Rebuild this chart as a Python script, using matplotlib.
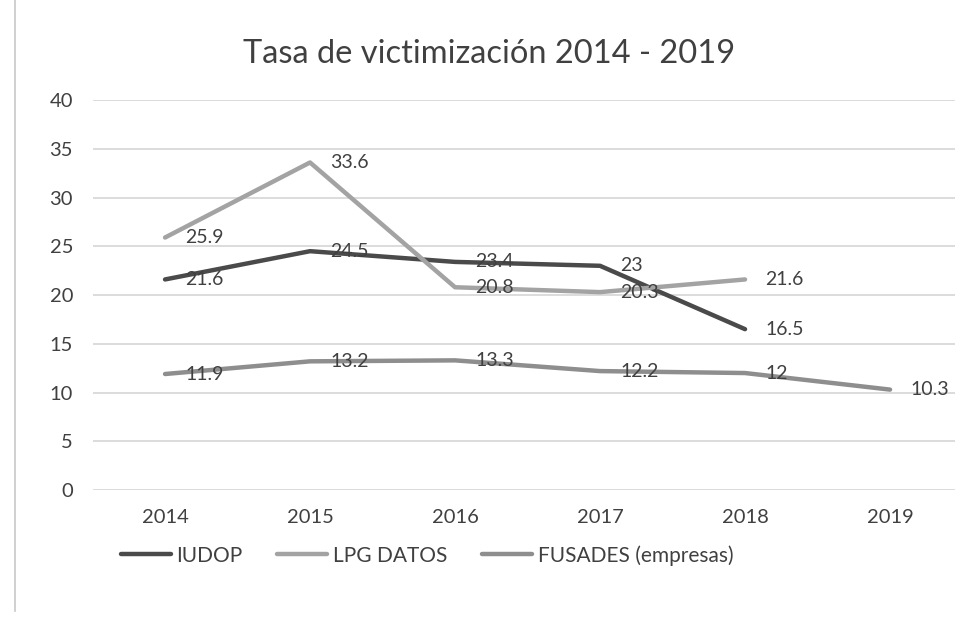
import matplotlib.pyplot as plt
from matplotlib.lines import Line2D

plt.rcParams['font.family'] = ['Lato', 'DejaVu Sans']

# Data
years = ['2014', '2015', '2016', '2017', '2018', '2019']
iudop = [21.6, 24.5, 23.4, 23, 16.5]
lpg_datos = [25.9, 33.6, 20.8, 20.3, 21.6]
fusades = [11.9, 13.2, 13.3, 12.2, 12, 10.3]
y_ticks = [0, 5, 10, 15, 20, 25, 30, 35, 40]

series = [
    ('IUDOP', iudop, '#4a4a4a'),
    ('LPG DATOS', lpg_datos, '#a3a3a3'),
    ('FUSADES (empresas)', fusades, '#8e8e8e'),
]
text_color = '#404040'

fig = plt.figure(figsize=(9.55, 6.17), dpi=100)
ax = fig.add_axes([0.0969, 0.2058, 0.911, 0.632])

for name, vals, col in series:
    xs = list(range(len(vals)))
    ax.plot(xs, vals, color=col, linewidth=3.2, label=name,
            solid_capstyle='round', solid_joinstyle='round', zorder=3)
    for x, v in zip(xs, vals):
        ax.annotate(f'{v:g}', (x, v), xytext=(20, 0), textcoords='offset pixels',
                    ha='left', va='center', fontsize=14, color=text_color, zorder=4)

ax.set_xlim(-0.5, len(years) - 0.5)
ax.set_ylim(0, 40)
ax.set_xticks(range(len(years)))
ax.set_xticklabels(years)
ax.set_yticks(y_ticks)
ax.grid(axis='y', color='#d9d9d9', linewidth=1.3, zorder=0)
ax.tick_params(axis='both', length=0, labelsize=14.5, colors=text_color)
ax.tick_params(axis='y', pad=14)
ax.tick_params(axis='x', pad=14)
for s in ax.spines.values():
    s.set_visible(False)

fig.text(0.512, 0.912, 'Tasa de victimización 2014 - 2019', ha='center', va='center',
         fontsize=23.5, color=text_color)

fig.legend(loc='center', bbox_to_anchor=(0.447, 0.1), ncol=3, frameon=False,
           fontsize=15, handlelength=2.4, columnspacing=1.7, handletextpad=0.25,
           labelcolor=text_color)

# chart border on the left
fig.add_artist(Line2D([0.016, 0.016], [0.01, 1.0], color='#c8c8c8', linewidth=1.2,
                      transform=fig.transFigure))

fig.savefig('out.png', dpi=100)
